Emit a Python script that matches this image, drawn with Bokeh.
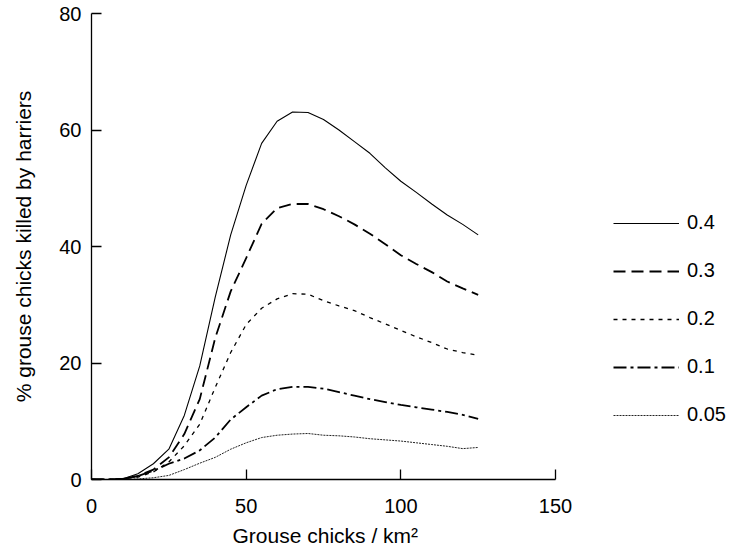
from bokeh.plotting import figure
from bokeh.models import Range1d, FixedTicker, Legend, LegendItem, Title
from bokeh.embed import file_html
from bokeh.resources import INLINE

# Data
x_vals = [0, 5, 10, 15, 20, 25, 30, 35, 40, 45, 50, 55, 60, 65, 70, 75, 80, 85, 90, 95, 100, 105, 110, 115, 120, 125]
y_04 = [0, 0, 0.1, 1.0, 2.7, 5.2, 11.0, 19.5, 31.3, 42.0, 50.5, 57.7, 61.5, 63.1, 63.0, 61.8, 60.0, 58.0, 56.0, 53.5, 51.2, 49.3, 47.3, 45.4, 43.8, 42.0]
y_03 = [0, 0, 0.1, 0.6, 1.7, 3.8, 7.8, 13.8, 24.3, 32.3, 38.0, 43.9, 46.6, 47.3, 47.3, 46.4, 45.2, 43.8, 42.2, 40.4, 38.5, 37.0, 35.6, 34.0, 32.8, 31.7]
y_02 = [0, 0, 0.1, 0.4, 1.3, 3.0, 5.8, 9.5, 15.8, 21.8, 26.6, 29.4, 31.0, 31.9, 31.8, 30.7, 29.8, 29.0, 27.8, 26.7, 25.6, 24.5, 23.5, 22.4, 21.8, 21.3]
y_01 = [0, 0, 0.1, 0.6, 1.5, 2.7, 3.6, 5.0, 7.2, 10.3, 12.4, 14.4, 15.5, 15.9, 15.9, 15.6, 15.0, 14.4, 13.8, 13.3, 12.8, 12.4, 12.0, 11.6, 11.1, 10.4]
y_005 = [0, 0, 0, 0.1, 0.3, 0.7, 1.7, 2.8, 3.8, 5.2, 6.3, 7.2, 7.6, 7.8, 7.9, 7.6, 7.5, 7.3, 7.0, 6.8, 6.6, 6.3, 6.0, 5.7, 5.3, 5.5]
series_labels = ["0.4", "0.3", "0.2", "0.1", "0.05"]
x_ticks = [0, 50, 100, 150]
y_ticks = [0, 20, 40, 60, 80]
x_title = "Grouse chicks / km²"
y_title = "% grouse chicks killed by harriers"

FONT = "Liberation Sans"

# frame spans to the right edge so the legend (inside the frame) is not clipped;
# the x axis itself is bounded to 0..150
p = figure(width=731, height=552, output_backend="svg", toolbar_location=None,
           x_range=Range1d(0, 206.9), y_range=Range1d(0, 80),
           min_border_left=91, min_border_right=0, min_border_top=13, min_border_bottom=10)
p.outline_line_color = None
p.xgrid.visible = False
p.ygrid.visible = False
p.background_fill_color = "white"
p.border_fill_color = "white"

for ax in (p.xaxis, p.yaxis):
    ax.major_tick_in = 10
    ax.major_tick_out = 0
    ax.minor_tick_line_color = None
    ax.axis_line_color = "black"
    ax.axis_line_width = 1.3
    ax.major_tick_line_color = "black"
    ax.major_tick_line_width = 1.3
    ax.major_label_text_font = FONT
    ax.major_label_text_font_size = "20px"
    ax.major_label_text_color = "black"
    ax.axis_label_text_font = FONT
    ax.axis_label_text_font_size = "21px"
    ax.axis_label_text_font_style = "normal"
    ax.axis_label_text_color = "black"

p.xaxis.bounds = (0, 150)
p.xaxis.ticker = FixedTicker(ticks=x_ticks)
p.yaxis.ticker = FixedTicker(ticks=y_ticks)
p.xaxis.major_label_standoff = 19
p.yaxis.major_label_standoff = 10
p.yaxis.axis_label = y_title
p.yaxis.axis_label_standoff = 21

# x-axis title placed below, centred under the 0..150 axis
xt = Title(text=x_title, align="left", offset=141, standoff=12,
           text_font=FONT, text_font_size="21px", text_font_style="normal",
           text_color="black")
p.add_layout(xt, "below")

r1 = p.line(x_vals, y_04, line_color="black", line_width=1.1)
r2 = p.line(x_vals, y_03, line_color="black", line_width=1.8, line_dash="12 6")
r3 = p.line(x_vals, y_02, line_color="black", line_width=1.3, line_dash="4 5")
r4 = p.line(x_vals, y_01, line_color="black", line_width=1.8, line_dash="13 4 3 4")
r5 = p.line(x_vals, y_005, line_color="#222222", line_width=1.0, line_dash="2 1")

items = [LegendItem(label=lab, renderers=[r]) for lab, r in zip(series_labels, [r1, r2, r3, r4, r5])]
legend = Legend(items=items, location=(522, 53), orientation="vertical",
                glyph_width=66, glyph_height=20, label_height=20, spacing=25,
                label_standoff=8, padding=0, margin=0,
                border_line_color=None, background_fill_alpha=0,
                label_text_font=FONT, label_text_font_size="20px", label_text_color="black")
p.add_layout(legend, "center")

open("out.html", "w").write(file_html(p, INLINE))
